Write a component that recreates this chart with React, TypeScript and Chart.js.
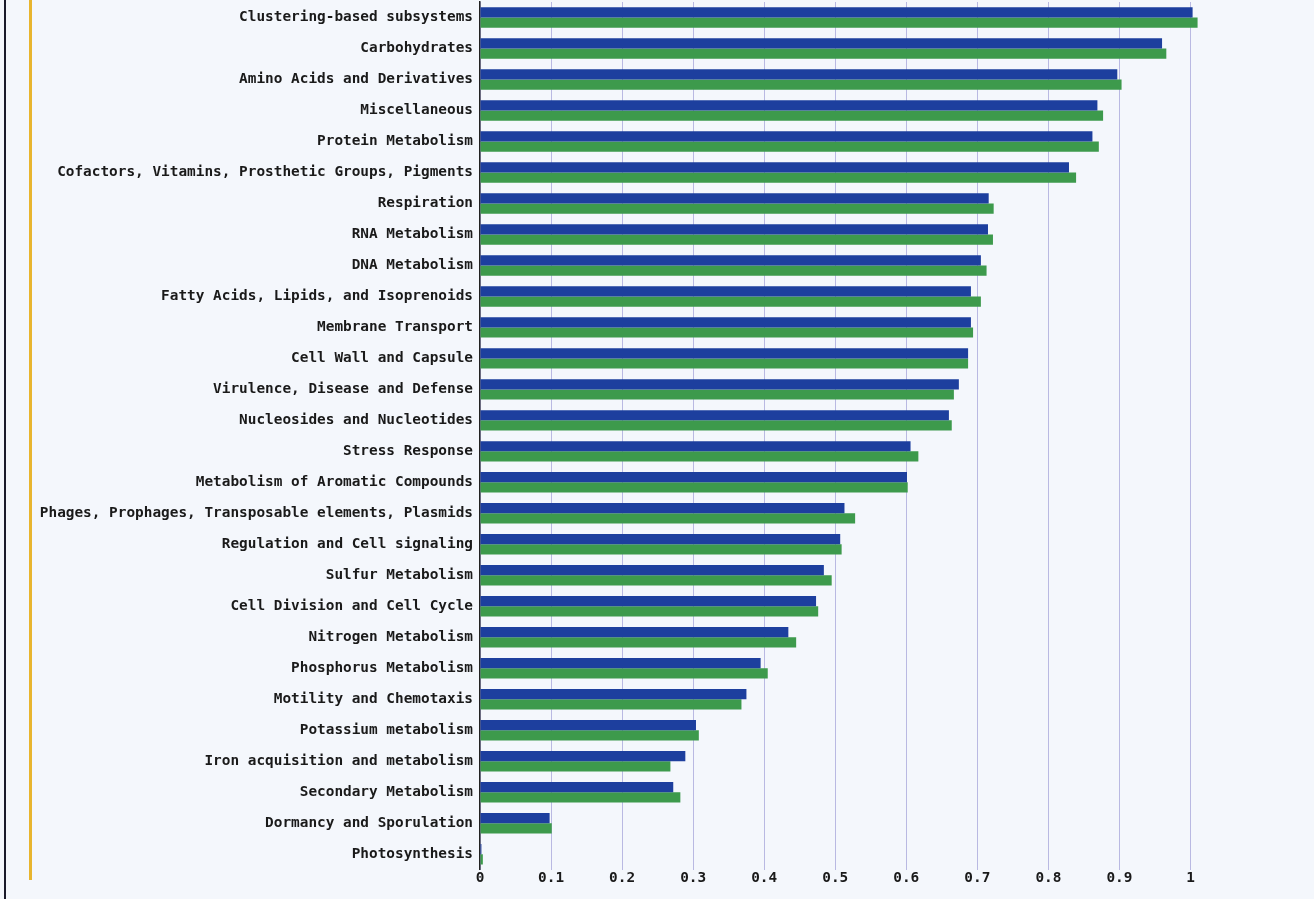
import React, { useEffect, useRef } from "react";
import { Chart, registerables } from "chart.js";

Chart.register(...registerables);

const categories = [
  "Clustering-based subsystems",
  "Carbohydrates",
  "Amino Acids and Derivatives",
  "Miscellaneous",
  "Protein Metabolism",
  "Cofactors, Vitamins, Prosthetic Groups, Pigments",
  "Respiration",
  "RNA Metabolism",
  "DNA Metabolism",
  "Fatty Acids, Lipids, and Isoprenoids",
  "Membrane Transport",
  "Cell Wall and Capsule",
  "Virulence, Disease and Defense",
  "Nucleosides and Nucleotides",
  "Stress Response",
  "Metabolism of Aromatic Compounds",
  "Phages, Prophages, Transposable elements, Plasmids",
  "Regulation and Cell signaling",
  "Sulfur Metabolism",
  "Cell Division and Cell Cycle",
  "Nitrogen Metabolism",
  "Phosphorus Metabolism",
  "Motility and Chemotaxis",
  "Potassium metabolism",
  "Iron acquisition and metabolism",
  "Secondary Metabolism",
  "Dormancy and Sporulation",
  "Photosynthesis",
];

const seriesBlue = [
  1.003, 0.96, 0.897, 0.869, 0.862, 0.829, 0.716, 0.715, 0.705, 0.691,
  0.691, 0.687, 0.674, 0.66, 0.606, 0.601, 0.513, 0.507, 0.484, 0.473,
  0.434, 0.395, 0.375, 0.304, 0.289, 0.272, 0.098, 0.002,
];

const seriesGreen = [
  1.01, 0.966, 0.903, 0.877, 0.871, 0.839, 0.723, 0.722, 0.713, 0.705,
  0.694, 0.687, 0.667, 0.664, 0.617, 0.602, 0.528, 0.509, 0.495, 0.476,
  0.445, 0.405, 0.368, 0.308, 0.268, 0.282, 0.101, 0.004,
];

const xTicks = [0, 0.1, 0.2, 0.3, 0.4, 0.5, 0.6, 0.7, 0.8, 0.9, 1];
const xTickLabels = ["0", "0.1", "0.2", "0.3", "0.4", "0.5", "0.6", "0.7", "0.8", "0.9", "1"];

export default function App() {
  const canvasRef = useRef<HTMLCanvasElement | null>(null);

  useEffect(() => {
    document.body.style.margin = "0";
    document.body.style.background = "#f4f7fc";
    const canvas = canvasRef.current;
    if (!canvas) return;
    const font = { family: "'DejaVu Sans Mono', monospace", size: 14.4, weight: "bold" as const };
    const chart = new Chart(canvas, {
      type: "bar",
      data: {
        labels: categories,
        datasets: [
          {
            label: "Series 1",
            data: seriesBlue,
            backgroundColor: "#1d3f9e",
            borderWidth: 0,
          },
          {
            label: "Series 2",
            data: seriesGreen,
            backgroundColor: "#3d9a4c",
            borderWidth: 0,
          },
        ],
      },
      options: {
        indexAxis: "y",
        animation: false,
        responsive: false,
        maintainAspectRatio: false,
        layout: { padding: { top: 2, right: 88, bottom: 12, left: 0 } },
        plugins: {
          legend: { display: false },
          tooltip: { enabled: false },
        },
        datasets: {
          bar: { barPercentage: 1, categoryPercentage: 0.66 },
        },
        scales: {
          x: {
            type: "linear",
            min: 0,
            max: 1.05,
            afterBuildTicks: (scale: any) => {
              scale.ticks = xTicks.map((v) => ({ value: v }));
            },
            ticks: {
              color: "#1a1a1a",
              font,
              padding: 0,
              callback: (v: any) => {
                const i = xTicks.findIndex((t) => Math.abs(t - Number(v)) < 1e-6);
                return i >= 0 ? xTickLabels[i] : "";
              },
            },
            grid: {
              color: "#b9b9e2",
              lineWidth: 1,
              drawTicks: false,
            },
            border: { display: false },
          },
          y: {
            type: "category",
            afterFit: (scale: any) => {
              scale.width = 480;
              scale.paddingTop = 0;
              scale.paddingBottom = 0;
            },
            ticks: {
              color: "#1a1a1a",
              font,
              padding: 7,
              autoSkip: false,
            },
            grid: { display: false, drawTicks: false },
            border: { display: true, color: "#222", width: 1.5 },
          },
        },
      },
    });
    return () => chart.destroy();
  }, []);

  return (
    <div style={{ position: "relative", width: 1314, height: 899 }}>
      <div
        style={{
          position: "absolute",
          left: 4,
          top: 0,
          width: 2,
          height: 899,
          background: "#1a1a2a",
        }}
      />
      <div
        style={{
          position: "absolute",
          left: 29,
          top: 0,
          width: 3,
          height: 880,
          background: "#e8b52e",
        }}
      />
      <canvas
        ref={canvasRef}
        width={1314}
        height={899}
        style={{ position: "absolute", left: 0, top: 0, width: 1314, height: 899 }}
      />
    </div>
  );
}
